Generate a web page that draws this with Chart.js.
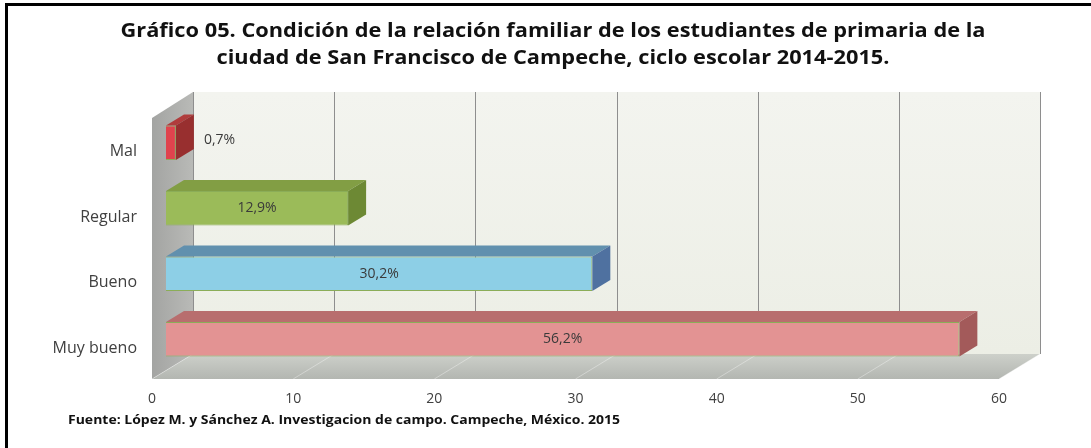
<!DOCTYPE html>
<html lang="es">
<head>
<meta charset="UTF-8" />
<title>Gráfico 05</title>
<style>
  body { margin: 0; background: #fff; }
  #wrap { width: 1091px; height: 448px; position: relative; }
</style>
<script src="https://cdn.jsdelivr.net/npm/chart.js"></script>
</head>
<body>
<div id="wrap"><canvas id="grafico"></canvas></div>
<script>
  const categorias = ['Mal', 'Regular', 'Bueno', 'Muy bueno'];
  const porcentajes = [0.7, 12.9, 30.2, 56.2];
  const etiquetas = ['0,7%', '12,9%', '30,2%', '56,2%'];
  const ticksX = [0, 10, 20, 30, 40, 50, 60];
  const titulo = [
    'Gráfico 05. Condición de la relación familiar de los estudiantes de primaria de la',
    'ciudad de San Francisco de Campeche, ciclo escolar 2014-2015.'
  ];
  const fuente = 'Fuente: López M. y Sánchez A. Investigacion de campo. Campeche, México. 2015';

  // colores de cada barra: cara frontal, tapa y lado
  const frente = ['#e0434d', '#9bbb59', '#8dcfe6', '#e39393'];
  const tapa = ['#b03c3c', '#829e44', '#6190ae', '#b86e6e'];
  const lado = ['#982f2f', '#6d8934', '#4f71a0', '#a35a5a'];

  const FUENTE = "'Open Sans', sans-serif";
  const D = { dx: 18, dy: -11 };      // profundidad de las barras
  const FR = { dx: -14, dy: 7 };      // plano frontal
  const AT = { dx: 27, dy: -18 };     // pared del fondo

  // texto algo más ancho, como en el original
  function textoAncho(ctx, txt, x, y, k) {
    ctx.save();
    ctx.translate(x, y);
    ctx.scale(k, 1);
    ctx.fillText(txt, 0, 0);
    ctx.restore();
  }

  const marco3d = {
    id: 'marco3d',
    beforeDatasetsDraw(chart) {
      const { ctx, chartArea: a } = chart;
      const sx = chart.scales.x;
      const x0 = sx.getPixelForValue(ticksX[0]);
      const xN = sx.getPixelForValue(ticksX[ticksX.length - 1]);
      const piso = a.bottom + FR.dy, fondo = a.bottom + AT.dy;
      const arriba = a.top + AT.dy;
      ctx.save();
      // pared del fondo
      const gFondo = ctx.createLinearGradient(0, arriba, 0, fondo);
      gFondo.addColorStop(0, '#f3f4ef');
      gFondo.addColorStop(1, '#eceee5');
      ctx.fillStyle = gFondo;
      ctx.fillRect(x0 + AT.dx, arriba, xN - x0, fondo - arriba);
      // piso
      const gPiso = ctx.createLinearGradient(0, fondo, 0, piso);
      gPiso.addColorStop(0, '#cdd0ca');
      gPiso.addColorStop(1, '#b3b6b1');
      ctx.fillStyle = gPiso;
      ctx.beginPath();
      ctx.moveTo(x0 + FR.dx, piso);
      ctx.lineTo(x0 + AT.dx, fondo);
      ctx.lineTo(xN + AT.dx, fondo);
      ctx.lineTo(xN + FR.dx, piso);
      ctx.closePath();
      ctx.fill();
      // pared izquierda
      const gIzq = ctx.createLinearGradient(x0 + FR.dx, 0, x0 + AT.dx, 0);
      gIzq.addColorStop(0, '#a3a4a2');
      gIzq.addColorStop(1, '#b9bab7');
      ctx.fillStyle = gIzq;
      ctx.beginPath();
      ctx.moveTo(x0 + FR.dx, arriba + 26);
      ctx.lineTo(x0 + AT.dx, arriba);
      ctx.lineTo(x0 + AT.dx, fondo);
      ctx.lineTo(x0 + FR.dx, piso);
      ctx.closePath();
      ctx.fill();
      // líneas de división
      ctx.strokeStyle = '#8e8e8e';
      ctx.lineWidth = 1;
      ticksX.forEach(v => {
        const px = Math.round(sx.getPixelForValue(v) + AT.dx) + 0.5;
        ctx.beginPath();
        ctx.moveTo(px, arriba);
        ctx.lineTo(px, fondo);
        ctx.stroke();
      });
      ctx.strokeStyle = 'rgba(255,255,255,0.35)';
      ticksX.forEach(v => {
        const px = sx.getPixelForValue(v);
        ctx.beginPath();
        ctx.moveTo(px + FR.dx, piso);
        ctx.lineTo(px + AT.dx, fondo);
        ctx.stroke();
      });
      ctx.restore();
    },
    afterDatasetsDraw(chart) {
      const { ctx } = chart;
      const meta = chart.getDatasetMeta(0);
      ctx.save();
      meta.data.forEach((bar, i) => {
        const { x, y, base, height } = bar.getProps(['x', 'y', 'base', 'height'], true);
        const t = y - height / 2, b = y + height / 2;
        ctx.fillStyle = tapa[i];
        ctx.beginPath();
        ctx.moveTo(base, t);
        ctx.lineTo(base + D.dx, t + D.dy);
        ctx.lineTo(x + D.dx, t + D.dy);
        ctx.lineTo(x, t);
        ctx.closePath();
        ctx.fill();
        ctx.fillStyle = lado[i];
        ctx.beginPath();
        ctx.moveTo(x, t);
        ctx.lineTo(x + D.dx, t + D.dy);
        ctx.lineTo(x + D.dx, b + D.dy);
        ctx.lineTo(x, b);
        ctx.closePath();
        ctx.fill();
        // etiqueta de datos
        ctx.font = '14px ' + FUENTE;
        ctx.fillStyle = '#3a3a3a';
        ctx.textBaseline = 'middle';
        if (x - base < 40) {
          ctx.textAlign = 'left';
          ctx.fillText(etiquetas[i], x + D.dx + 10, y - 3);
        } else {
          ctx.textAlign = 'center';
          ctx.fillText(etiquetas[i], (x + base) / 2, y);
        }
      });
      ctx.restore();
    },
    afterDraw(chart) {
      const { ctx } = chart;
      ctx.save();
      ctx.fillStyle = '#000';
      ctx.fillRect(5, 3, 1086, 3);
      ctx.fillRect(5, 3, 3, 445);
      ctx.fillStyle = '#111';
      ctx.textAlign = 'center';
      ctx.textBaseline = 'middle';
      ctx.font = 'bold 19px ' + FUENTE;
      const k = 865 / ctx.measureText(titulo[0]).width;
      textoAncho(ctx, titulo[0], 553, 32, k);
      textoAncho(ctx, titulo[1], 553, 59, k);
      ctx.textAlign = 'left';
      ctx.font = 'bold 13px ' + FUENTE;
      textoAncho(ctx, fuente, 68, 420, 552 / ctx.measureText(fuente).width);
      ctx.restore();
    }
  };

  new Chart(document.getElementById('grafico'), {
    type: 'bar',
    data: {
      labels: categorias,
      datasets: [{
        data: porcentajes,
        backgroundColor: frente,
        borderColor: '#8bad58',
        borderWidth: 1,
        barPercentage: 0.53,
        categoryPercentage: 1
      }]
    },
    options: {
      indexAxis: 'y',
      responsive: true,
      maintainAspectRatio: false,
      animation: false,
      layout: { padding: { left: 0, top: 110, right: 78, bottom: 36 } },
      plugins: { legend: { display: false }, tooltip: { enabled: false } },
      scales: {
        x: {
          min: 0,
          max: 60,
          afterBuildTicks: s => { s.ticks = ticksX.map(v => ({ value: v })); },
          afterFit: s => { s.height = 40; },
          grid: { display: false, drawTicks: false },
          border: { display: false },
          ticks: { color: '#404040', font: { family: FUENTE, size: 14 }, padding: 19, labelOffset: -14 }
        },
        y: {
          afterFit: s => { s.width = 166; },
          grid: { display: false, drawTicks: false },
          border: { display: false },
          ticks: { color: '#404040', font: { family: FUENTE, size: 16 }, padding: 29, labelOffset: 9 }
        }
      }
    },
    plugins: [marco3d]
  });
</script>
</body>
</html>
